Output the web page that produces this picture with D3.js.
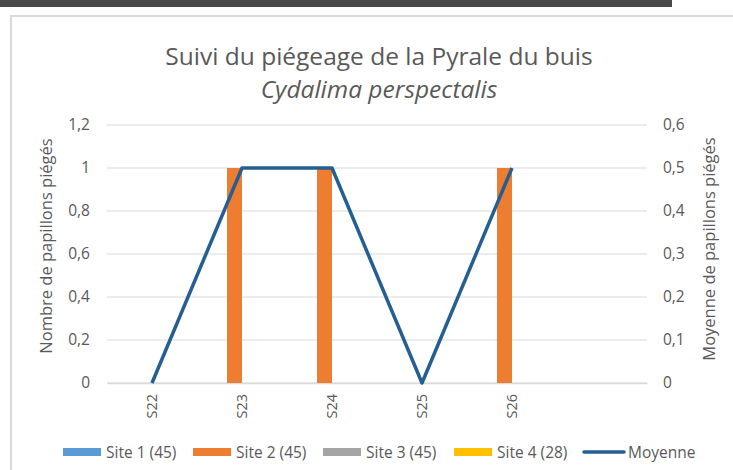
<!DOCTYPE html>
<html>
<head>
<meta charset="utf-8">
<script src="https://cdn.jsdelivr.net/npm/d3@7"></script>
<style>
  html, body { margin: 0; padding: 0; background: #fff; }
  svg text { font-family: "Open Sans", Lato, sans-serif; fill: #595959; }
</style>
</head>
<body>
<div id="chart"></div>
<script>
// data
const weeks = ["S22", "S23", "S24", "S25", "S26", ""];
const sites = ["Site 1 (45)", "Site 2 (45)", "Site 3 (45)", "Site 4 (28)"];
const site1 = [0, 0, 0, 0, 0, null];
const site2 = [0, 1, 1, 0, 1, null];
const site3 = [0, 0, 0, 0, 0, null];
const site4 = [0, 0, 0, 0, 0, null];
const moyenne = [0, 0.5, 0.5, 0, 0.5, null];
const leftTicks = [0, 0.2, 0.4, 0.6, 0.8, 1, 1.2];
const rightTicks = [0, 0.1, 0.2, 0.3, 0.4, 0.5, 0.6];
const colors = ["#5B9BD5", "#ED7D31", "#A5A5A5", "#FFC000"];
const lineColor = "#255E91";

const width = 733, height = 470;
const plot = { left: 107, right: 647, top: 125, bottom: 383 };

const svg = d3.select("#chart").append("svg")
    .attr("width", width)
    .attr("height", height);

// dark strip at top and the chart frame
svg.append("rect").attr("x", 0).attr("y", 0).attr("width", 672).attr("height", 7).attr("fill", "#4a4a4a");
svg.append("rect").attr("x", 11).attr("y", 16).attr("width", 800).attr("height", 500)
    .attr("fill", "#fff").attr("stroke", "#d9d9d9").attr("stroke-width", 2);

// scales
const x = d3.scaleBand().domain(weeks).range([plot.left, plot.right]);
const xSite = d3.scaleBand().domain(sites).range([0, x.bandwidth()]).paddingOuter(1);
const y = d3.scaleLinear().domain([0, 1.2]).range([plot.bottom, plot.top]);
const y2 = d3.scaleLinear().domain([0, 0.6]).range([plot.bottom, plot.top]);
const fmt = d => String(d).replace(".", ",");

// gridlines
svg.append("g")
    .selectAll("line")
    .data(leftTicks)
    .join("line")
    .attr("x1", plot.left).attr("x2", plot.right)
    .attr("y1", d => y(d)).attr("y2", d => y(d))
    .attr("stroke", "#d9d9d9").attr("stroke-width", 1);

// left axis
const yAxis = svg.append("g")
    .attr("transform", `translate(${plot.left},0)`)
    .call(d3.axisLeft(y).tickValues(leftTicks).tickFormat(fmt).tickSize(0).tickPadding(17));
yAxis.select(".domain").remove();
yAxis.selectAll("text").style("font-size", "15.5px").attr("fill", "#595959");

// right axis
const y2Axis = svg.append("g")
    .attr("transform", `translate(${plot.right},0)`)
    .call(d3.axisRight(y2).tickValues(rightTicks).tickFormat(fmt).tickSize(0).tickPadding(16));
y2Axis.select(".domain").remove();
y2Axis.selectAll("text").style("font-size", "15.5px").attr("fill", "#595959");

// x axis
const xAxis = svg.append("g")
    .attr("transform", `translate(0,${plot.bottom})`)
    .call(d3.axisBottom(x).tickSize(0).tickPadding(0));
xAxis.select(".domain").attr("stroke", "#d9d9d9").attr("stroke-width", 1.5);
xAxis.selectAll("text")
    .style("font-size", "14.5px")
    .attr("fill", "#595959")
    .attr("text-anchor", "end")
    .attr("dy", "0.35em")
    .attr("transform", "translate(0,11) rotate(-90)");

// bars
const siteSeries = [site1, site2, site3, site4];
siteSeries.forEach((vals, i) => {
    svg.append("g")
        .selectAll("rect")
        .data(weeks.map((w, j) => ({ week: w, value: vals[j] })).filter(d => d.value != null))
        .join("rect")
        .attr("x", d => x(d.week) + xSite(sites[i]))
        .attr("width", xSite.bandwidth())
        .attr("y", d => y(d.value))
        .attr("height", d => plot.bottom - y(d.value))
        .attr("fill", colors[i]);
});

// average line
const line = d3.line()
    .defined(d => d.value != null)
    .x(d => x(d.week) + x.bandwidth() / 2)
    .y(d => y2(d.value));
svg.append("path")
    .datum(weeks.map((w, j) => ({ week: w, value: moyenne[j] })))
    .attr("fill", "none")
    .attr("stroke", lineColor)
    .attr("stroke-width", 3.5)
    .attr("stroke-linejoin", "round")
    .attr("d", line);

// titles
svg.append("text").attr("x", 379).attr("y", 65).attr("text-anchor", "middle")
    .style("font-size", "24.5px").text("Suivi du piégeage de la Pyrale du buis");
svg.append("text").attr("x", 379).attr("y", 98).attr("text-anchor", "middle")
    .style("font-size", "24.5px").style("font-style", "italic").text("Cydalima perspectalis");

svg.append("text")
    .attr("transform", `translate(52,${(plot.top + plot.bottom) / 2 - 8}) rotate(-90)`)
    .attr("text-anchor", "middle")
    .style("font-size", "16.5px")
    .text("Nombre de papillons piégés");
svg.append("text")
    .attr("transform", `translate(715,${(plot.top + plot.bottom) / 2 - 5}) rotate(-90)`)
    .attr("text-anchor", "middle")
    .style("font-size", "16.5px")
    .text("Moyenne de papillons piégés");

// legend
const legendX = [63, 193, 323, 454];
const legend = svg.append("g");
sites.forEach((s, i) => {
    legend.append("rect").attr("x", legendX[i]).attr("y", 448).attr("width", 38).attr("height", 8).attr("fill", colors[i]);
    legend.append("text").attr("x", legendX[i] + 43).attr("y", 458).style("font-size", "15.5px").text(s);
});
legend.append("line").attr("x1", 584).attr("x2", 624).attr("y1", 452).attr("y2", 452)
    .attr("stroke", lineColor).attr("stroke-width", 3.5).attr("stroke-linecap", "round");
legend.append("text").attr("x", 628).attr("y", 458).style("font-size", "15.5px").text("Moyenne");
</script>
</body>
</html>
